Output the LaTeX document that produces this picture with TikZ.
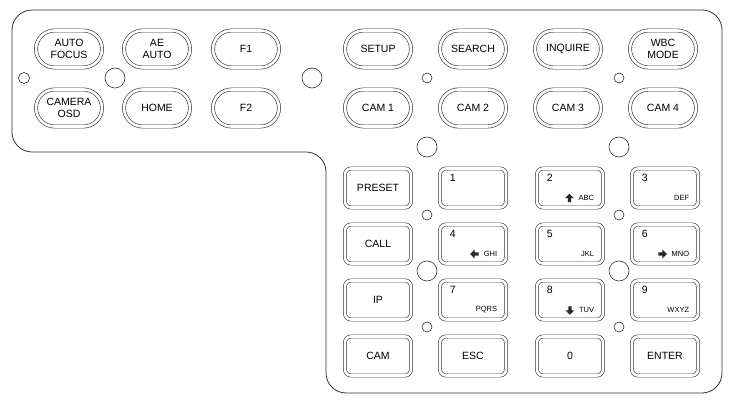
\documentclass[tikz,border=0pt]{standalone}
\usepackage{fontspec}
\setmainfont{Liberation Sans}
\usetikzlibrary{shapes.misc}
\begin{document}
\begin{tikzpicture}[x=1pt,y=-1pt,
  lw/.style={line width=0.6pt, draw=black!80},
  pill/.style={lw, rounded rectangle, double=white, double distance=2.6pt, minimum width=66pt, minimum height=37pt, align=center, font=\fontsize{10.5}{11.5}\selectfont, inner sep=0pt},
  keybox/.style={lw, rounded corners=6pt, double=white, double distance=2.6pt, minimum width=66pt, minimum height=39pt, inner sep=0pt, font=\fontsize{10.5}{11}\selectfont},
  hole/.style={lw, circle, inner sep=0pt},
  num/.style={font=\fontsize{10.5}{11}\selectfont, anchor=north west, inner sep=0pt},
  sub/.style={font=\fontsize{7.5}{9}\selectfont, anchor=south east, inner sep=0pt},
  arr/.style={fill=black!85}]
\useasboundingbox (0,0) rectangle (731,411);
\draw[lw, line width=0.8pt, rounded corners=20pt] (326,152) -- (326,393) -- (722,393) -- (722,10) -- (12,10) -- (12,152) -- cycle;
% pills
\node[pill] (af) at (69,49) {AUTO\\FOCUS};
\node[pill] (ae) at (157,49) {AE\\AUTO};
\node[pill] (f1) at (246,49) {F1};
\node[pill] (co) at (69,108) {CAMERA\\OSD};
\node[pill] (home) at (157,108) {HOME};
\node[pill] (f2) at (246,108) {F2};
\node[pill] (setup) at (378,49) {SETUP};
\node[pill] (search) at (473,49) {SEARCH};
\node[pill] (inq) at (568,49) {INQUIRE};
\node[pill] (wbc) at (663,49) {WBC\\MODE};
\node[pill] (c1) at (378,108) {CAM 1};
\node[pill] (c2) at (473,108) {CAM 2};
\node[pill] (c3) at (568,108) {CAM 3};
\node[pill] (c4) at (663,108) {CAM 4};
% holes
\node[hole, minimum size=11pt] (h1) at (24,78) {};
\node[hole, minimum size=20pt] (h2) at (115,78) {};
\node[hole, minimum size=20pt] (h3) at (312,78) {};
\node[hole, minimum size=10pt] (h4) at (427,78) {};
\node[hole, minimum size=10pt] (h5) at (619,78) {};
\node[hole, minimum size=20pt] (h6) at (427,147) {};
\node[hole, minimum size=20pt] (h7) at (619,147) {};
\node[hole, minimum size=10pt] (h8) at (427,215) {};
\node[hole, minimum size=10pt] (h9) at (619,215) {};
\node[hole, minimum size=20pt] (h10) at (427,271) {};
\node[hole, minimum size=20pt] (h11) at (619,271) {};
\node[hole, minimum size=10pt] (h12) at (427,327) {};
\node[hole, minimum size=10pt] (h13) at (619,327) {};
% keypad
\node[keybox] (preset) at (378,188) {PRESET};
\node[keybox] (call) at (378,244) {CALL};
\node[keybox] (ip) at (378,300) {IP};
\node[keybox] (cam) at (378,356) {CAM};
\node[keybox] (esc) at (473,356) {ESC};
\node[keybox] (k0) at (570,356) {0};
\node[keybox] (enter) at (665,356) {ENTER};
\foreach \n/\x/\y in {k1/473/188, k2/570/188, k3/665/188, k4/473/244, k5/570/244, k6/665/244, k7/473/300, k8/570/300, k9/665/300}{
  \node[keybox] (\n) at (\x,\y) {};
}
\foreach \n/\t/\s in {k1/1/, k2/2/ABC, k3/3/DEF, k4/4/GHI, k5/5/JKL, k6/6/MNO, k7/7/PQRS, k8/8/TUV, k9/9/WXYZ}{
  \node[num] (\n t) at ([xshift=10pt,yshift=-6pt]\n.north west) {\t};
  \node[sub] (\n s) at ([xshift=-9pt,yshift=7pt]\n.south east) {\s};
}
% arrows
\fill[arr, shift={(k2s.west)}, xshift=-9pt, yshift=-0.3pt] (0,-4.5) -- (4.5,0) -- (1.6,0) -- (1.6,4) -- (-1.6,4) -- (-1.6,0) -- (-4.5,0) -- cycle;
\fill[arr, shift={(k8s.west)}, xshift=-9pt, yshift=-0.3pt] (0,4.5) -- (4.5,0) -- (1.6,0) -- (1.6,-4) -- (-1.6,-4) -- (-1.6,0) -- (-4.5,0) -- cycle;
\fill[arr, shift={(k4s.west)}, xshift=-9pt] (-4.5,0) -- (0,-4.5) -- (0,-1.6) -- (4,-1.6) -- (4,1.6) -- (0,1.6) -- (0,4.5) -- cycle;
\fill[arr, shift={(k6s.west)}, xshift=-9pt] (4.5,0) -- (0,-4.5) -- (0,-1.6) -- (-4,-1.6) -- (-4,1.6) -- (0,1.6) -- (0,4.5) -- cycle;
\end{tikzpicture}
\end{document}
